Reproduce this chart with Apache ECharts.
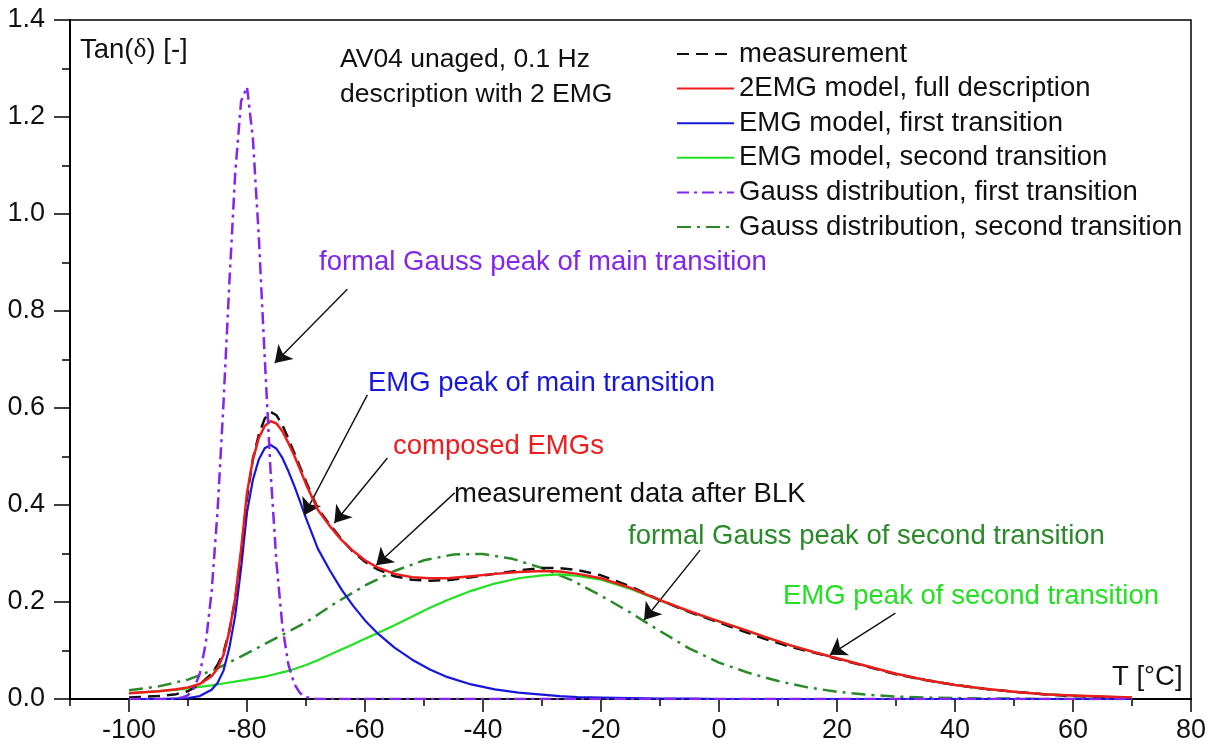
<!DOCTYPE html>
<html>
<head>
<meta charset="utf-8">
<title>Tan(δ) – AV04 unaged, 0.1 Hz</title>
<script src="https://cdn.jsdelivr.net/npm/echarts@6/dist/echarts.min.js"></script>
<style>
  html, body { margin: 0; padding: 0; background: #fff; }
  #chart { width: 1219px; height: 747px; }
</style>
</head>
<body>
<div id="chart"></div>
<script>
// Temperature grid (°C) shared by the measurement and the EMG curves
const temps = [-100, -95, -92, -90, -88, -86, -85, -84, -83, -82, -81, -80, -79, -78, -77, -76, -75, -74, -73, -72, -71, -70,
  -68, -66, -64, -62, -60, -58, -55, -52, -49, -46, -42, -38, -34, -30, -27, -24, -20, -15, -10, -5, 0,
  4, 8, 12, 16, 20, 25, 30, 35, 40, 45, 50, 55, 60, 65, 70];

// tan(δ) measurement after baseline correction
const measurement = [0.003, 0.006, 0.010, 0.016, 0.030, 0.052, 0.070, 0.095, 0.140, 0.205, 0.300, 0.415, 0.495, 0.545, 0.578, 0.592, 0.585, 0.565, 0.537, 0.508, 0.478, 0.448,
  0.393, 0.360, 0.330, 0.303, 0.283, 0.268, 0.253, 0.246, 0.244, 0.245, 0.251, 0.258, 0.265, 0.270, 0.270, 0.266, 0.255, 0.232, 0.204, 0.179, 0.158,
  0.140, 0.123, 0.108, 0.096, 0.083, 0.067, 0.051, 0.039, 0.029, 0.021, 0.015, 0.010, 0.006, 0.004, 0.002];

// 2EMG model, full description
const model2EMG = [0.012, 0.016, 0.020, 0.024, 0.031, 0.047, 0.063, 0.090, 0.139, 0.208, 0.308, 0.425, 0.494, 0.538, 0.563, 0.573, 0.568, 0.552, 0.528, 0.502, 0.473, 0.443,
  0.390, 0.357, 0.328, 0.305, 0.286, 0.272, 0.258, 0.251, 0.249, 0.249, 0.253, 0.258, 0.262, 0.264, 0.263, 0.258, 0.249, 0.229, 0.204, 0.181, 0.160,
  0.144, 0.127, 0.111, 0.097, 0.084, 0.068, 0.052, 0.039, 0.029, 0.021, 0.015, 0.010, 0.007, 0.005, 0.003];

// EMG model, first transition
const emgFirst = [0.000, 0.000, 0.001, 0.002, 0.006, 0.019, 0.033, 0.058, 0.105, 0.172, 0.270, 0.385, 0.452, 0.494, 0.517, 0.524, 0.516, 0.497, 0.470, 0.440, 0.407, 0.373,
  0.310, 0.266, 0.226, 0.192, 0.162, 0.137, 0.106, 0.081, 0.061, 0.045, 0.030, 0.020, 0.013, 0.009, 0.006, 0.004, 0.003, 0.002, 0.001, 0.001, 0.000,
  0, 0, 0, 0, 0, 0, 0, 0, 0, 0, 0, 0, 0, 0, 0];

// EMG model, second transition
const emgSecond = [0.012, 0.016, 0.019, 0.022, 0.025, 0.028, 0.030, 0.032, 0.034, 0.036, 0.038, 0.040, 0.042, 0.044, 0.046, 0.049, 0.052, 0.055, 0.058, 0.062, 0.066, 0.070,
  0.080, 0.091, 0.102, 0.113, 0.124, 0.135, 0.152, 0.170, 0.188, 0.204, 0.223, 0.238, 0.249, 0.255, 0.257, 0.254, 0.246, 0.227, 0.203, 0.180, 0.160,
  0.144, 0.127, 0.111, 0.097, 0.084, 0.068, 0.052, 0.039, 0.029, 0.021, 0.015, 0.010, 0.007, 0.005, 0.003];

// Gauss distribution, first transition
const gaussFirstT = [-100, -93, -92, -91, -90, -89, -88, -87, -86, -85, -84, -83, -82, -81, -80, -79, -78, -77, -76, -75, -74, -73, -72, -71, -70, -69, -68, 70];
const gaussFirst = [0, 0, 0.001, 0.003, 0.008, 0.022, 0.052, 0.114, 0.221, 0.386, 0.606, 0.856, 1.084, 1.233, 1.262, 1.156, 0.953, 0.705, 0.468, 0.280, 0.150, 0.072, 0.031, 0.012, 0.004, 0.001, 0, 0];

// Gauss distribution, second transition
const gaussSecondT = [-100, -95, -90, -85, -80, -75, -70, -65, -60, -55, -50, -45, -40, -35, -30, -25, -20, -15, -10, -5, 0, 5, 10, 15, 20, 25, 30, 35, 40, 45, 50, 55, 60, 65, 70];
const gaussSecond = [0.018, 0.026, 0.040, 0.063, 0.094, 0.126, 0.158, 0.198, 0.234, 0.264, 0.286, 0.298, 0.299, 0.289, 0.270, 0.245, 0.213, 0.178, 0.140, 0.104, 0.075, 0.054, 0.037, 0.024, 0.015, 0.009, 0.005, 0.003, 0.002, 0.001, 0.001, 0, 0, 0, 0];

// Axis tick values
const xLabelValues = [-100, -80, -60, -40, -20, 0, 20, 40, 60, 80];
const xMinorTickValues = [-110, -100, -90, -80, -70, -60, -50, -40, -30, -20, -10, 0, 10, 20, 30, 40, 50, 60, 70, 80];

const seriesNames = [
  'measurement',
  '2EMG model, full description',
  'EMG model, first transition',
  'EMG model, second transition',
  'Gauss distribution, first transition',
  'Gauss distribution, second transition'
];

const FONT = '"Liberation Sans", Arial, Helvetica, sans-serif';
const FS = 27.5;
const FS_AXIS = 27;
const FS_TITLE = 26.5;
const C = {
  meas: '#111111',
  red: '#ee1c1c',
  blue: '#1616dc',
  green: '#22e022',
  purple: '#8226ec',
  dgreen: '#2a8a2a'
};

const pairs = (xs, ys) => xs.map((x, i) => [x, ys[i]]);

function lineSeries(name, xs, ys, color, width, type, z) {
  return {
    name: name,
    type: 'line',
    data: pairs(xs, ys),
    showSymbol: false,
    symbol: 'none',
    smooth: false,
    z: z,
    lineStyle: { color: color, width: width, type: type, join: 'round' },
    itemStyle: { color: color },
    emphasis: { disabled: true },
    animation: false
  };
}

// Annotation arrows in data coordinates: [from, to]
const arrows = [
  [[-63.0, 0.845], [-75.3, 0.693]],
  [[-59.6, 0.627], [-70.3, 0.379]],
  [[-56.2, 0.497], [-65.2, 0.363]],
  [[-44.8, 0.425], [-58.1, 0.276]],
  [[-3.2, 0.307], [-12.7, 0.163]],
  [[29.9, 0.177], [18.8, 0.091]]
];

function txt(text, x, y, color, size) {
  return {
    type: 'text', x: x, y: y, z: 50,
    style: { text: text, fill: color, font: (size || FS) + 'px ' + FONT, verticalAlign: 'middle', align: 'left' }
  };
}

const chart = echarts.init(document.getElementById('chart'), null, { renderer: 'canvas' });

const option = {
  backgroundColor: '#ffffff',
  animation: false,
  grid: {
    left: 70, right: 28, top: 20, bottom: 48,
    show: true, borderColor: '#000', borderWidth: 1.5, backgroundColor: 'transparent'
  },
  legend: {
    data: seriesNames,
    orient: 'vertical',
    left: 671,
    top: 35,
    itemWidth: 57,
    itemHeight: 27,
    itemGap: 6.6,
    selectedMode: false,
    itemStyle: { opacity: 0, borderWidth: 0 },
    textStyle: { fontFamily: FONT, fontSize: FS, color: '#111', padding: 0 }
  },
  xAxis: [
    {
      type: 'value', min: -110, max: 80, interval: 10,
      axisLine: { show: true, onZero: false, lineStyle: { color: '#000', width: 2 } },
      axisTick: { show: true, inside: false, length: 7, lineStyle: { color: '#000', width: 1.5 }, customValues: xMinorTickValues },
      axisLabel: {
        customValues: xLabelValues, margin: 18,
        fontFamily: FONT, fontSize: FS_AXIS, color: '#111',
        formatter: v => (v % 20 === 0 && v >= -100) ? String(v) : ''
      },
      splitLine: { show: false }
    },
    {
      type: 'value', min: -110, max: 80, interval: 10, position: 'bottom',
      axisLine: { show: false },
      axisTick: { show: true, inside: false, length: 13, lineStyle: { color: '#000', width: 1.5 }, customValues: xLabelValues },
      axisLabel: { show: false },
      splitLine: { show: false }
    }
  ],
  yAxis: {
    type: 'value', min: 0, max: 1.4, interval: 0.2,
    axisLine: { show: true, onZero: false, lineStyle: { color: '#000', width: 2 } },
    axisTick: { show: true, inside: false, length: 16, lineStyle: { color: '#000', width: 1.5 } },
    minorTick: { show: true, splitNumber: 2, length: 8, lineStyle: { color: '#000', width: 1.5 } },
    axisLabel: { margin: 25, fontFamily: FONT, fontSize: FS_AXIS, color: '#111', formatter: v => v.toFixed(1) },
    splitLine: { show: false }
  },
  series: [
    lineSeries(seriesNames[5], gaussSecondT, gaussSecond, C.dgreen, 2.5, [14, 6, 3, 6], 2),
    lineSeries(seriesNames[3], temps, emgSecond, C.green, 2.2, 'solid', 3),
    lineSeries(seriesNames[2], temps, emgFirst, C.blue, 2.2, 'solid', 4),
    lineSeries(seriesNames[0], temps, measurement, C.meas, 2.5, [12, 7], 5),
    lineSeries(seriesNames[1], temps, model2EMG, C.red, 2.5, 'solid', 6),
    lineSeries(seriesNames[4], gaussFirstT, gaussFirst, C.purple, 2.5, [12, 5, 3, 5], 7),
    {
      name: 'arrows',
      type: 'line',
      data: [],
      z: 9,
      markLine: {
        silent: true,
        animation: false,
        symbol: ['none', 'arrow'],
        symbolSize: 16,
        label: { show: false },
        itemStyle: { color: '#111' },
        lineStyle: { color: '#111', width: 1.4, type: 'solid' },
        emphasis: { disabled: true },
        data: arrows.map(a => [{ coord: a[0] }, { coord: a[1] }])
      }
    }
  ],
  graphic: [
    {
      type: 'text', x: 80, y: 50, z: 50,
      style: {
        text: '{a|Tan(}{b|δ}{a|) [-]}',
        verticalAlign: 'middle',
        rich: {
          a: { fontFamily: FONT, fontSize: FS, fill: '#111' },
          b: { fontFamily: '"Liberation Serif", "DejaVu Serif", serif', fontSize: FS, fill: '#111' }
        }
      }
    },
    txt('AV04 unaged, 0.1 Hz', 340, 60, '#111', FS_TITLE),
    txt('description with 2 EMG', 340, 95, '#111', FS_TITLE),
    txt('formal Gauss peak of main transition', 319, 262, C.purple),
    txt('EMG peak of main transition', 368, 383, C.blue),
    txt('composed EMGs', 393, 446, C.red),
    txt('measurement data after BLK', 454, 494, '#111'),
    txt('formal Gauss peak of second transition', 628, 536, C.dgreen),
    txt('EMG peak of second transition', 783, 596, C.green),
    txt('T [°C]', 1112, 677, '#111')
  ]
};

chart.setOption(option);
</script>
</body>
</html>
